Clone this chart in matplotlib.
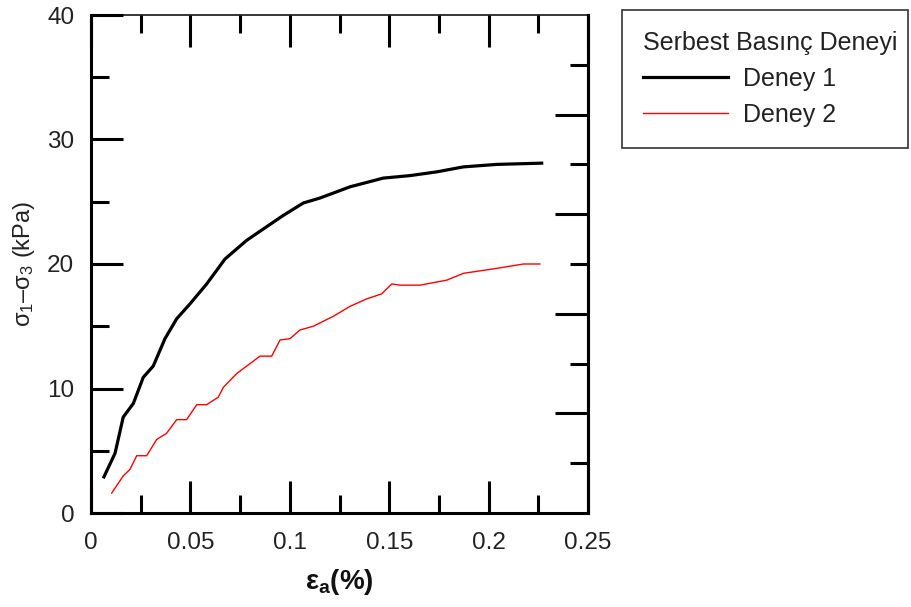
import matplotlib
matplotlib.use("Agg")
import matplotlib.pyplot as plt
from matplotlib.ticker import MultipleLocator, FixedLocator, NullFormatter

# data
# Deney 1 (black)
strain_1 = [0.0065, 0.0121, 0.0162, 0.0213, 0.0263, 0.0313, 0.0372, 0.0431, 0.0498,
            0.0582, 0.0674, 0.0783, 0.0884, 0.0967, 0.1068, 0.1152, 0.1303, 0.147,
            0.1605, 0.1739, 0.1873, 0.2041, 0.2267]
stress_1 = [2.9, 4.8, 7.7, 8.8, 10.9, 11.8, 14.0, 15.6, 16.8,
            18.4, 20.4, 21.9, 23.0, 23.9, 24.9, 25.3, 26.2, 26.9,
            27.1, 27.4, 27.8, 28.0, 28.1]
# Deney 2 (red)
strain_2 = [0.0104, 0.0163, 0.0196, 0.023, 0.028, 0.033, 0.038, 0.0431, 0.0481,
            0.0532, 0.0582, 0.064, 0.0666, 0.0733, 0.0783, 0.085, 0.0909, 0.0951,
            0.1001, 0.1051, 0.1118, 0.1219, 0.1303, 0.1387, 0.1462, 0.1513, 0.1554,
            0.1655, 0.1789, 0.1873, 0.2041, 0.2175, 0.2258]
stress_2 = [1.6, 3.0, 3.5, 4.6, 4.6, 5.9, 6.4, 7.5, 7.5,
            8.7, 8.7, 9.3, 10.1, 11.2, 11.8, 12.6, 12.6, 13.9,
            14.0, 14.7, 15.0, 15.8, 16.6, 17.2, 17.6, 18.4, 18.3,
            18.3, 18.7, 19.25, 19.65, 20.0, 20.0]

labels = ["Deney 1", "Deney 2"]
legend_title = "Serbest Basınç Deneyi"
x_ticks = [0, 0.05, 0.1, 0.15, 0.2, 0.25]
x_ticklabels = ["0", "0.05", "0.1", "0.15", "0.2", "0.25"]
y_ticks = [0, 10, 20, 30, 40]
right_major = [8, 16, 24, 32]
right_minor = [4, 12, 20, 28, 36]

plt.rcParams["font.family"] = ["Liberation Sans", "DejaVu Sans"]
plt.rcParams["mathtext.fontset"] = "custom"
plt.rcParams["mathtext.rm"] = "Liberation Sans"
plt.rcParams["mathtext.it"] = "Liberation Sans"
plt.rcParams["mathtext.default"] = "regular"

fig = plt.figure(figsize=(9.12, 6.07), dpi=100)
ax = fig.add_axes([91 / 912, 94 / 607, 497 / 912, 498 / 607])

ax.plot(strain_1, stress_1, color="black", lw=2.3, label=labels[0])
ax.plot(strain_2, stress_2, color="red", lw=1.0, label=labels[1])

ax.set_xlim(0, 0.25)
ax.set_ylim(0, 40)

ax.xaxis.set_major_locator(FixedLocator(x_ticks))
ax.set_xticklabels(x_ticklabels)
ax.xaxis.set_minor_locator(MultipleLocator(0.025))
ax.yaxis.set_major_locator(FixedLocator(y_ticks))
ax.yaxis.set_minor_locator(MultipleLocator(5))

ax.tick_params(axis="both", which="major", direction="in", length=23, width=2.2,
               labelsize=17.5, labelcolor="#222222", color="black")
ax.tick_params(axis="both", which="minor", direction="in", length=13, width=2.2)
ax.tick_params(axis="x", which="both", top=True, bottom=True, pad=14)
ax.tick_params(axis="y", which="both", left=True, right=False, pad=12)

for s in ["left", "bottom", "right"]:
    ax.spines[s].set_linewidth(2.2)
ax.spines["top"].set_linewidth(1.1)

# right side has its own tick spacing
ax2 = ax.twinx()
ax2.set_ylim(0, 40)
ax2.yaxis.set_major_locator(FixedLocator(right_major))
ax2.yaxis.set_minor_locator(FixedLocator(right_minor))
ax2.yaxis.set_major_formatter(NullFormatter())
ax2.tick_params(axis="y", which="major", direction="in", length=24, width=2.2)
ax2.tick_params(axis="y", which="minor", direction="in", length=13, width=2.2)
for s in ["left", "top", "bottom"]:
    ax2.spines[s].set_visible(False)
ax2.spines["right"].set_linewidth(2.2)

ax.set_xlabel("ε$_a$(%)", fontsize=20, fontweight="bold", labelpad=9, color="#111111")
ax.set_ylabel("σ$_1$–σ$_3$ (kPa)", fontsize=17, labelpad=7, color="#222222")

leg = ax.legend(title=legend_title, loc="upper left",
                bbox_to_anchor=(622 / 912, 462 / 607, 286 / 912, 135 / 607),
                bbox_transform=fig.transFigure, mode="expand",
                fontsize=18, title_fontsize=18, frameon=True, fancybox=False,
                handlelength=3.4, handletextpad=0.6, labelspacing=0.47,
                borderpad=0.85, alignment="left", borderaxespad=0)
leg.get_frame().set_edgecolor("black")
leg.get_frame().set_linewidth(1.2)
for t in leg.get_texts():
    t.set_color("#222222")
leg.get_title().set_color("#222222")

fig.savefig("out.png", dpi=100)
